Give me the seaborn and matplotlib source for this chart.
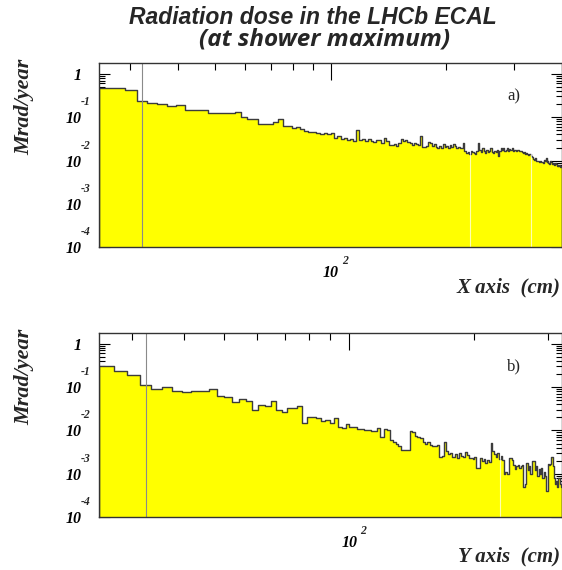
import numpy as np
import pandas as pd
import matplotlib
matplotlib.use("Agg")
import matplotlib.pyplot as plt
import seaborn as sns
from matplotlib.ticker import LogLocator, FuncFormatter, NullFormatter
from matplotlib.transforms import blended_transform_factory, offset_copy

# 2.083 cm bins starting at 25 cm (180 bins along X, 144 along Y)
bin_width = 375 / 180
x_edges = 25 + bin_width * np.arange(181)
y_edges = 25 + bin_width * np.arange(145)

# dose per bin, Mrad/year
dose_x = [
    0.47, 0.46, 0.43, 0.23, 0.215, 0.20, 0.18, 0.19, 0.143, 0.143, 0.147, 0.128, 0.124,
    0.124, 0.124, 0.13, 0.10, 0.09, 0.09, 0.0705, 0.0705, 0.0705, 0.076, 0.092, 0.061, 0.061,
    0.056, 0.058, 0.054, 0.047, 0.045, 0.046, 0.043, 0.042, 0.044, 0.041, 0.043, 0.034, 0.036,
    0.031, 0.033, 0.030, 0.032, 0.029, 0.05, 0.030, 0.032, 0.028, 0.031, 0.029, 0.027, 0.030,
    0.030, 0.026, 0.033, 0.028, 0.023, 0.023, 0.024, 0.022, 0.025,
    0.031, 0.028, 0.030, 0.027, 0.025, 0.023, 0.026, 0.024, 0.023,
    0.036, 0.021, 0.021, 0.022, 0.027, 0.026, 0.022, 0.024, 0.021, 0.020,
    0.022, 0.020, 0.024, 0.021, 0.022, 0.019, 0.023, 0.021, 0.024, 0.022, 0.020, 0.021,
    0.020, 0.019, 0.026, 0.017, 0.015, 0.016, 0.014, 0.017, 0.016, 0.015, 0.0145, 0.017, 0.025,
    0.018, 0.016, 0.019, 0.017, 0.015, 0.018, 0.016, 0.017, 0.019, 0.016, 0.015, 0.017, 0.016,
    0.018, 0.0125,
    0.017, 0.019, 0.018, 0.020, 0.017, 0.018, 0.019, 0.017, 0.0185, 0.018, 0.019, 0.017, 0.018,
    0.0175, 0.0165, 0.018, 0.017,
    0.0165, 0.017, 0.016, 0.015, 0.0155, 0.014, 0.015, 0.0145, 0.0135, 0.014, 0.013, 0.012,
    0.011, 0.0105, 0.0112, 0.010, 0.0098, 0.010, 0.0095,
    0.0098, 0.0092, 0.0095, 0.0088, 0.0102, 0.0096, 0.0112, 0.0093, 0.0098, 0.0090, 0.0085,
    0.0096, 0.0091, 0.0083, 0.0088, 0.0079, 0.0086, 0.0082, 0.0077, 0.0080, 0.0074, 0.0078,
    0.0073, 0.0076,
]
dose_y = [
    0.30, 0.24, 0.193, 0.1135, 0.090, 0.1005, 0.0796, 0.0755, 0.0826, 0.0826, 0.090, 0.0633,
    0.0578, 0.0443, 0.053, 0.0485, 0.029, 0.039, 0.037, 0.0468, 0.030, 0.026,
    0.0328, 0.0328, 0.0357, 0.0148, 0.0204, 0.0204, 0.0195, 0.0162, 0.0177, 0.0148, 0.0195,
    0.0123, 0.0112, 0.0143, 0.0123, 0.0123, 0.0108, 0.0108, 0.0104, 0.0104, 0.0095, 0.0095,
    0.0112,
    0.0072, 0.0107, 0.0105, 0.0061, 0.0055, 0.0048, 0.0045, 0.0036, 0.0036, 0.0036,
    0.0095, 0.0092, 0.0075, 0.0070, 0.0066, 0.0055, 0.0050, 0.0053, 0.0047, 0.0045, 0.0043,
    0.0046, 0.0025, 0.0026, 0.0055,
    0.0033, 0.0028, 0.0031, 0.0025, 0.0029, 0.0023, 0.0030, 0.0026, 0.0024, 0.0032, 0.0027,
    0.0023, 0.0023, 0.0022, 0.0024, 0.0014, 0.0014,
    0.0023, 0.0020, 0.0022, 0.0018, 0.0021, 0.0019, 0.0051, 0.0033, 0.0028, 0.0025, 0.0030,
    0.0022, 0.0026, 0.0021,
    0.0010, 0.0011, 0.0010, 0.0023, 0.0023, 0.0021, 0.0016, 0.0013, 0.0015, 0.0016, 0.0014,
    0.0015, 0.0016, 0.0005, 0.0006,
    0.0018, 0.0012, 0.0015, 0.0010, 0.0020, 0.0020, 0.0012, 0.0015, 0.0009, 0.0013, 0.0010,
    0.0014, 0.0008, 0.0011, 0.0009,
    0.0004, 0.0017, 0.0016, 0.0017, 0.0025, 0.0015, 0.0008, 0.0006, 0.0007, 0.0005, 0.0008,
    0.0006, 0.0005,
]
y_decades = [-4, -3, -2, -1, 0]
beam_hole_edge = 32.3
white_lines_x = [230, 333]
white_lines_y = [230]

sns.set_style("ticks")
serif_bi = dict(family="Liberation Serif", weight="bold", style="italic")

fig = plt.figure(figsize=(5.62, 5.70), dpi=100)
ax_a = fig.add_axes([0.1767, 0.566, 0.8233, 0.324])
ax_b = fig.add_axes([0.1767, 0.0925, 0.8233, 0.324])


def draw_panel(ax, edges, dose, xmax, xlabel, tag, lines):
    df = pd.DataFrame({"pos": (edges[:-1] + edges[1:]) / 2, "dose": dose})
    sns.histplot(data=df, x="pos", weights="dose", bins=list(edges), element="step",
                 fill=True, color="#ffff00", alpha=1, edgecolor="#3c3c3c", linewidth=1.0,
                 ax=ax)
    ax.set_xscale("log")
    ax.set_yscale("log")
    ax.set_xlim(25, xmax)
    ax.set_ylim(1e-4, 1.8)

    ax.axvline(beam_hole_edge, color="#8a8a8a", lw=0.8)
    for xl in lines:
        ax.axvline(xl, color="white", lw=0.8, alpha=0.7)

    ax.xaxis.set_major_locator(LogLocator(base=10, numticks=10))
    ax.xaxis.set_minor_locator(LogLocator(base=10, subs=np.arange(2, 10), numticks=20))
    ax.xaxis.set_major_formatter(FuncFormatter(lambda v, p: "10"))
    ax.xaxis.set_minor_formatter(NullFormatter())
    ax.yaxis.set_major_locator(LogLocator(base=10, numticks=10))
    ax.yaxis.set_minor_locator(LogLocator(base=10, subs=np.arange(2, 10), numticks=20))
    ax.yaxis.set_major_formatter(FuncFormatter(lambda v, p: "1" if abs(v - 1) < 1e-9 else "10"))
    ax.yaxis.set_minor_formatter(NullFormatter())

    ax.tick_params(axis="both", which="both", direction="in", top=True, right=True,
                   colors="black", width=0.8)
    ax.tick_params(axis="y", which="major", length=8, pad=12.5)
    ax.tick_params(axis="y", which="minor", length=4)
    ax.tick_params(axis="x", which="major", length=12, pad=13)
    ax.tick_params(axis="x", which="minor", length=5)
    for lab in ax.get_xticklabels() + ax.get_yticklabels():
        lab.set_fontproperties(dict(serif_bi, size=11.5))
    for sp in ax.spines.values():
        sp.set_color("#333333")
        sp.set_linewidth(1.0)

    # ROOT-style exponents above the "10"
    ytr = offset_copy(blended_transform_factory(ax.transAxes, ax.transData), fig=fig,
                      x=-9, y=15, units="dots")
    for k in y_decades:
        if k != 0:
            ax.text(0, 10.0 ** k, str(k), transform=ytr, ha="right", va="center",
                    fontsize=8.5, **serif_bi)
    xtr = offset_copy(blended_transform_factory(ax.transData, ax.transAxes), fig=fig,
                      x=11, y=-13.7, units="dots")
    ax.text(100, 0, "2", transform=xtr, ha="left", va="center", fontsize=8.5, **serif_bi)

    ax.set_xlabel("")
    ax.set_ylabel("")
    ax.text(0.997, -0.215, xlabel, transform=ax.transAxes, ha="right", va="center",
            fontsize=15, **serif_bi)
    ax.text(-0.162, 0.76, "Mrad/year", transform=ax.transAxes, rotation=90,
            ha="center", va="center", fontsize=16, **serif_bi)
    ax.text(0.896, 0.816, tag, transform=ax.transAxes, ha="center", va="center",
            fontsize=12, family="Liberation Serif")


draw_panel(ax_a, x_edges, dose_x, 400, "X axis  (cm)", "a)", white_lines_x)
draw_panel(ax_b, y_edges, dose_y, 325, "Y axis  (cm)", "b)", white_lines_y)

fig.text(0.557, 0.958, "Radiation dose in the LHCb ECAL", ha="center", va="baseline",
         fontsize=16.5, family="Liberation Sans", weight="bold", style="italic")
fig.text(0.578, 0.921, "(at shower maximum)", ha="center", va="baseline",
         fontsize=17.5, family="Open Sans", weight="bold", style="italic")

fig.savefig("out.png", dpi=100)
